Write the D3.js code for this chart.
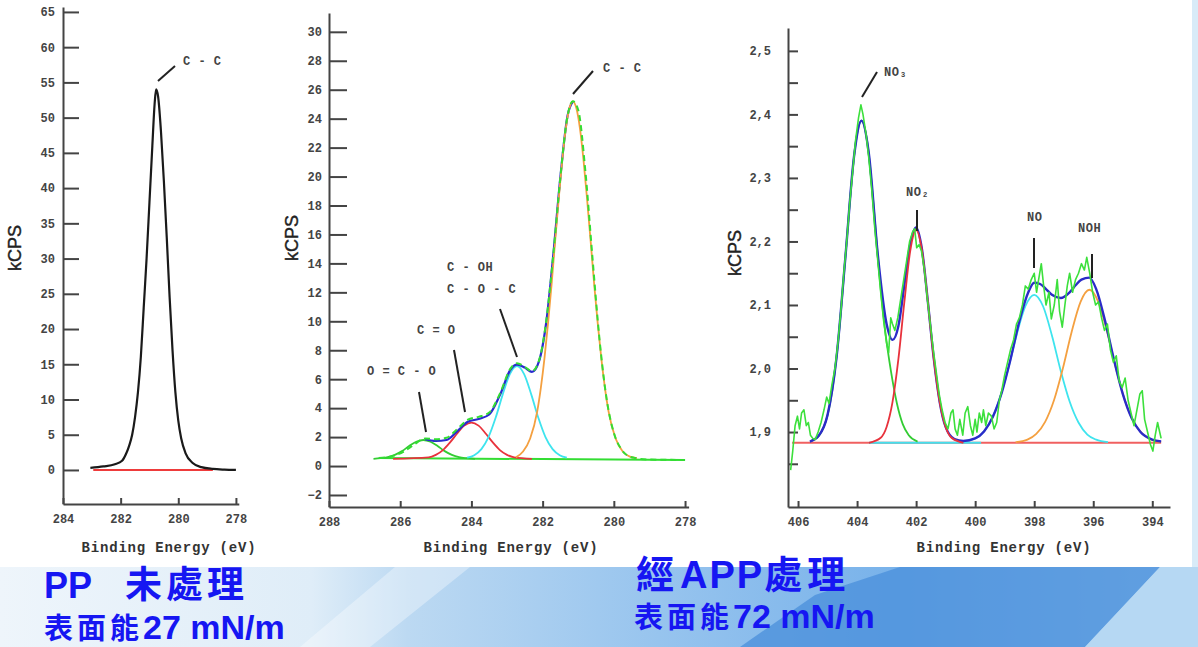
<!DOCTYPE html>
<html>
<head>
<meta charset="utf-8">
<script src="https://cdnjs.cloudflare.com/ajax/libs/d3/7.8.5/d3.min.js"></script>
<style>
    body { margin: 0; background: #fff; }
    svg { display: block; }
</style>
</head>
<body>
<div id="chart"></div>
<script>

    // ---------- data (eV, kCPS) ----------

    // PP untreated, C1s
    var ppXTicks = [284, 282, 280, 278];
    var ppYTicks = d3.range(0, 66, 5);
    var ppCurve = [[283.05, 0.3], [282.6, 0.5], [282.2, 0.8], [281.95, 1.3], [281.8, 2.4], [281.7, 3.5],
        [281.6, 5.0], [281.5, 7.5], [281.4, 11], [281.3, 16], [281.2, 23], [281.1, 30], [281.0, 38],
        [280.9, 46], [280.82, 52], [280.77, 54], [280.7, 53], [280.6, 48], [280.5, 41], [280.4, 33],
        [280.3, 24.5], [280.2, 17], [280.1, 11], [280.0, 7], [279.9, 4.5], [279.75, 2.4], [279.5, 1.0],
        [279.2, 0.4], [278.8, 0.15], [278.4, 0.05], [278.0, 0]];
    var ppBase = [[282.95, 0], [278.8, 0]];

    // APP treated, C1s
    var cXTicks = [288, 286, 284, 282, 280, 278];
    var cYTicks = d3.range(-2, 31, 2);
    var cBase = [[286.6, 0.55], [278.0, 0.42]];
    var cOCO = [[286.75, 0.5], [286.55, 0.54], [286.35, 0.61], [286.15, 0.77], [285.95, 1.03], [285.75, 1.38],
        [285.55, 1.68], [285.35, 1.8], [285.15, 1.68], [284.95, 1.38], [284.75, 1.03], [284.55, 0.77],
        [284.35, 0.61], [284.15, 0.54], [283.9, 0.5]];
    var cCdO = [[286.2, 0.5], [285.2, 0.6], [285.0, 0.77], [284.8, 1.1], [284.6, 1.63], [284.4, 2.25],
        [284.2, 2.79], [284.0, 3.0], [283.8, 2.79], [283.6, 2.25], [283.4, 1.63], [283.2, 1.1],
        [283.0, 0.77], [282.8, 0.6], [282.3, 0.5]];
    var cCOH = [[284.12, 0.58], [283.92, 0.75], [283.72, 1.17], [283.52, 2.0], [283.32, 3.33], [283.12, 4.95],
        [282.92, 6.35], [282.72, 6.9], [282.52, 6.35], [282.32, 4.95], [282.12, 3.33], [281.92, 2.0],
        [281.72, 1.17], [281.52, 0.75], [281.32, 0.58]];
    var cCC = [[282.75, 0.6], [282.55, 1.0], [282.35, 1.9], [282.15, 3.8], [282.05, 5.4], [281.95, 7.4],
        [281.85, 9.8], [281.75, 12.5], [281.65, 15.5], [281.55, 18.4], [281.45, 21.1], [281.35, 23.3],
        [281.25, 24.7], [281.15, 25.2], [281.05, 24.7], [280.95, 23.3], [280.85, 21.1], [280.75, 18.4],
        [280.65, 15.5], [280.55, 12.5], [280.45, 9.8], [280.35, 7.4], [280.25, 5.4], [280.15, 3.8],
        [279.95, 1.9], [279.75, 1.0], [279.55, 0.65], [279.35, 0.55]];
    var cFit = [[285.3, 1.85], [285.0, 1.73], [284.7, 1.8], [284.4, 2.4], [284.1, 3.06], [283.8, 3.25],
        [283.5, 3.56], [283.2, 4.9], [282.9, 6.67], [282.72, 7.0], [282.5, 6.8], [282.3, 6.5],
        [282.1, 7.25], [281.9, 9.9], [281.7, 14.6], [281.5, 20.0], [281.3, 24.2], [281.15, 25.2]];
    var cRaw = [[286.6, 0.55], [286.2, 0.7], [285.9, 1.0], [285.6, 1.5], [285.3, 1.9], [285.0, 1.85],
        [284.7, 1.95], [284.4, 2.55], [284.1, 3.2], [283.8, 3.4], [283.5, 3.7], [283.2, 5.0], [282.9, 6.75],
        [282.72, 7.1], [282.5, 6.85], [282.3, 6.55], [282.1, 7.3], [281.9, 10.0], [281.7, 14.6],
        [281.5, 20.0], [281.3, 24.2], [281.15, 25.2], [281.0, 24.6], [280.8, 20.4], [280.6, 14.4],
        [280.4, 8.7], [280.2, 4.6], [280.0, 2.3], [279.8, 1.2], [279.6, 0.7], [279.4, 0.55],
        [279.0, 0.45], [278.0, 0.42]];

    // APP treated, N1s
    var nXTicks = [406, 404, 402, 400, 398, 396, 394];
    var nYTicks = [1.85, 1.9, 1.95, 2.0, 2.05, 2.1, 2.15, 2.2, 2.25, 2.3, 2.35, 2.4, 2.45, 2.5];
    var nBase = [[406.2, 1.883], [393.7, 1.883]];
    var nBase2 = [[403.6, 1.883], [399.8, 1.883]];
    var nNO3 = [[405.55, 1.886], [405.25, 1.897], [405.05, 1.918], [404.85, 1.963], [404.65, 2.038],
        [404.45, 2.144], [404.25, 2.26], [404.05, 2.354], [403.85, 2.39], [403.65, 2.355], [403.45, 2.262],
        [403.25, 2.15], [403.05, 2.06], [402.85, 1.995], [402.65, 1.945], [402.45, 1.912], [402.25, 1.895],
        [401.95, 1.885]];
    var nNO2 = [[403.6, 1.883], [403.2, 1.891], [403.0, 1.908], [402.8, 1.947], [402.6, 2.015], [402.4, 2.104],
        [402.2, 2.185], [402.0, 2.218], [401.8, 2.185], [401.6, 2.104], [401.4, 2.015], [401.2, 1.947],
        [401.0, 1.908], [400.8, 1.891], [400.4, 1.883]];
    var nNO = [[400.5, 1.884], [400.1, 1.888], [399.8, 1.896], [399.5, 1.915], [399.2, 1.948], [398.9, 1.996],
        [398.6, 2.052], [398.3, 2.098], [398.0, 2.116], [397.7, 2.098], [397.4, 2.052], [397.1, 1.996],
        [396.8, 1.948], [396.5, 1.915], [396.2, 1.896], [395.9, 1.888], [395.5, 1.884]];
    var nNOH = [[398.63, 1.884], [398.23, 1.888], [397.93, 1.897], [397.63, 1.916], [397.33, 1.95],
        [397.03, 2.0], [396.73, 2.058], [396.43, 2.105], [396.13, 2.124], [395.83, 2.105], [395.53, 2.058],
        [395.23, 2.0], [394.93, 1.95], [394.63, 1.916], [394.33, 1.897], [394.03, 1.888], [393.7, 1.884]];
    var nFit = [[405.6, 1.885], [405.3, 1.894], [405.0, 1.927], [404.7, 2.016], [404.4, 2.173], [404.1, 2.335],
        [403.85, 2.39], [403.6, 2.338], [403.3, 2.18], [403.0, 2.07], [402.8, 2.045], [402.6, 2.067],
        [402.4, 2.131], [402.2, 2.196], [402.0, 2.222], [401.8, 2.187], [401.6, 2.104], [401.4, 2.015],
        [401.2, 1.947], [401.0, 1.908], [400.7, 1.889], [400.4, 1.886], [400.0, 1.89], [399.7, 1.901],
        [399.4, 1.924], [399.1, 1.962], [398.8, 2.015], [398.5, 2.075], [398.2, 2.12], [398.0, 2.135],
        [397.8, 2.133], [397.6, 2.125], [397.4, 2.116], [397.1, 2.111], [396.8, 2.12], [396.6, 2.131],
        [396.4, 2.14], [396.13, 2.143], [395.9, 2.125], [395.6, 2.075], [395.3, 2.014], [395.0, 1.96],
        [394.7, 1.922], [394.4, 1.9], [394.0, 1.888], [393.7, 1.885]];
    var nRaw = [[406.25, 1.84], [406.18, 1.87], [406.1, 1.91], [406.02, 1.925], [405.95, 1.905], [405.88, 1.93],
        [405.8, 1.935], [405.72, 1.91], [405.65, 1.915], [405.58, 1.895], [405.5, 1.89], [405.42, 1.888],
        [405.32, 1.9], [405.22, 1.915], [405.12, 1.935], [405.03, 1.955], [404.95, 1.945], [404.85, 1.975],
        [404.75, 2.0], [404.65, 2.04], [404.55, 2.09], [404.45, 2.15], [404.35, 2.2], [404.25, 2.26],
        [404.15, 2.31], [404.05, 2.36], [403.95, 2.395], [403.87, 2.415], [403.8, 2.4], [403.7, 2.37],
        [403.6, 2.33], [403.5, 2.28], [403.4, 2.22], [403.3, 2.17], [403.2, 2.12], [403.1, 2.075],
        [403.0, 2.04], [402.93, 2.025], [402.86, 2.08], [402.8, 2.07], [402.72, 2.06], [402.62, 2.08],
        [402.52, 2.11], [402.42, 2.14], [402.32, 2.17], [402.22, 2.2], [402.12, 2.215], [402.05, 2.22],
        [401.98, 2.19], [401.9, 2.195], [401.82, 2.185], [401.72, 2.155], [401.62, 2.11], [401.52, 2.07],
        [401.42, 2.03], [401.32, 1.995], [401.22, 1.96], [401.12, 1.935], [401.02, 1.915], [400.92, 1.905],
        [400.82, 1.93], [400.75, 1.935], [400.68, 1.905], [400.6, 1.895], [400.52, 1.92], [400.42, 1.895],
        [400.34, 1.93], [400.25, 1.94], [400.16, 1.91], [400.08, 1.895], [400.0, 1.92], [399.94, 1.9],
        [399.86, 1.93], [399.78, 1.915], [399.72, 1.935], [399.64, 1.91], [399.55, 1.93], [399.45, 1.925],
        [399.36, 1.905], [399.27, 1.915], [399.18, 1.95], [399.1, 1.965], [399.0, 1.99], [398.9, 2.01],
        [398.8, 2.03], [398.7, 2.045], [398.6, 2.07], [398.5, 2.08], [398.4, 2.1], [398.3, 2.13],
        [398.2, 2.125], [398.1, 2.14], [398.0, 2.15], [397.92, 2.12], [397.85, 2.14], [397.76, 2.165],
        [397.68, 2.13], [397.6, 2.1], [397.5, 2.12], [397.42, 2.078], [397.32, 2.1], [397.22, 2.14],
        [397.14, 2.09], [397.05, 2.065], [396.96, 2.1], [396.88, 2.13], [396.8, 2.15], [396.7, 2.12],
        [396.6, 2.14], [396.5, 2.15], [396.4, 2.165], [396.3, 2.155], [396.22, 2.175], [396.12, 2.15],
        [396.02, 2.12], [395.92, 2.1], [395.82, 2.105], [395.72, 2.08], [395.62, 2.06], [395.52, 2.07],
        [395.42, 2.03], [395.32, 2.01], [395.22, 2.02], [395.12, 1.98], [395.02, 1.97], [394.92, 1.985],
        [394.82, 1.95], [394.72, 1.93], [394.62, 1.91], [394.52, 1.935], [394.42, 1.96], [394.34, 1.965],
        [394.26, 1.92], [394.16, 1.9], [394.06, 1.88], [393.98, 1.87], [393.9, 1.895], [393.82, 1.915],
        [393.75, 1.9], [393.7, 1.89]];

    // ---------- drawing ----------
    var W = 1198, H = 647;
    var svg = d3.select("#chart").append("svg").attr("width", W).attr("height", H);

    // background of the slide
    var defs = svg.append("defs");
    var grad = defs.append("linearGradient").attr("id", "band").attr("x1", "0").attr("x2", "1").attr("y1", "0").attr("y2", "0");
    [[0, "#eef5fb"], [0.26, "#dfedf8"], [0.34, "#bcd9f2"], [0.55, "#97c4ee"], [0.75, "#78b2ea"], [1, "#a9d0f2"]]
        .forEach(function (s) { grad.append("stop").attr("offset", s[0]).attr("stop-color", s[1]); });
    svg.append("rect").attr("x", 0).attr("y", 0).attr("width", W).attr("height", H).attr("fill", "#fff");
    svg.append("rect").attr("x", 0).attr("y", 567).attr("width", W).attr("height", 80).attr("fill", "url(#band)");
    svg.append("polygon").attr("points", "300,647 395,567 470,567 370,647").attr("fill", "#fff").attr("opacity", 0.35);
    svg.append("polygon").attr("points", "740,647 815,595 900,567 1160,567 1085,647").attr("fill", "#4a8fdb").attr("opacity", 0.75);
    svg.append("polygon").attr("points", "1085,647 1160,567 1198,567 1198,647").attr("fill", "#b6d8f3");
    svg.append("rect").attr("x", 1192).attr("y", 0).attr("width", 6).attr("height", 567).attr("fill", "#d8ebf8");

    var line = function (x, y, curve) {
        return d3.line().x(function (d) { return x(d[0]); }).y(function (d) { return y(d[1]); }).curve(curve);
    };

    function drawPanel(p) {
        var g = svg.append("g");
        var x = d3.scaleLinear().domain(p.xDomain).range(p.xRange);
        var y = d3.scaleLinear().domain(p.yDomain).range(p.yRange);

        var yAxis = d3.axisLeft(y).tickValues(p.yTicks).tickSizeInner(-p.yTickLen).tickSizeOuter(0)
            .tickPadding(p.yPad).tickFormat(p.yFormat);
        var xAxis = d3.axisBottom(x).tickValues(p.xTicks).tickSizeInner(-6).tickSizeOuter(0)
            .tickPadding(10).tickFormat(d3.format("d"));

        [g.append("g").attr("transform", "translate(" + p.xRange[0] + ",0)").call(yAxis),
         g.append("g").attr("transform", "translate(0," + p.yRange[0] + ")").call(xAxis)]
            .forEach(function (a) {
                a.attr("font-family", "'Liberation Mono', monospace").attr("font-size", 12).attr("font-weight", "bold");
                a.select(".domain").attr("stroke", "#444").attr("stroke-width", 2);
                a.selectAll(".tick line").attr("stroke", "#444").attr("stroke-width", 2);
                a.selectAll(".tick text").attr("fill", "#444");
            });

        p.series.forEach(function (s) {
            g.append("path").datum(s.data)
                .attr("d", line(x, y, s.curve || d3.curveMonotoneX))
                .attr("fill", "none")
                .attr("stroke", s.color)
                .attr("stroke-width", s.width || 2)
                .attr("stroke-dasharray", s.dash || null)
                .attr("stroke-linejoin", "round");
        });

        // labels on the peaks
        p.notes.forEach(function (n) {
            g.append("line").attr("x1", n.l[0]).attr("y1", n.l[1]).attr("x2", n.l[2]).attr("y2", n.l[3])
                .attr("stroke", "#222").attr("stroke-width", 2);
            n.t.forEach(function (t) {
                g.append("text").attr("x", t[0]).attr("y", t[1]).text(t[2])
                    .attr("font-family", "'Liberation Mono', monospace").attr("font-weight", "bold")
                    .attr("font-size", 12).attr("letter-spacing", 0.5).attr("fill", "#444");
            });
        });

        g.append("text").attr("x", p.titleX).attr("y", 552).attr("text-anchor", "middle")
            .attr("font-family", "'Liberation Mono', monospace").attr("font-weight", "bold")
            .attr("font-size", 14).attr("letter-spacing", 0.8).attr("fill", "#333")
            .text("Binding Energy (eV)");
        g.append("text").attr("transform", "translate(" + p.kX + "," + p.kY + ") rotate(-90)")
            .attr("text-anchor", "middle").attr("font-family", "'Liberation Sans', sans-serif")
            .attr("font-size", 18).attr("fill", "#222").attr("stroke", "#222").attr("stroke-width", 0.4)
            .text("kCPS");
    }

    drawPanel({
        xDomain: [284, 277.9], xRange: [63, 238.8], xTicks: ppXTicks,
        yDomain: [-4.83, 65.7], yRange: [504, 7], yTicks: ppYTicks, yTickLen: 16, yPad: 8,
        yFormat: d3.format("d"),
        series: [
            { data: ppBase, color: "#ee3b3b", width: 2 },
            { data: ppCurve, color: "#1a1a1a", width: 2.2 }
        ],
        notes: [{ l: [158, 81, 175, 66], t: [[183, 65, "C - C"]] }],
        titleX: 169, kX: 21, kY: 248
    });

    drawPanel({
        xDomain: [288, 277.9], xRange: [329, 688.6], xTicks: cXTicks,
        yDomain: [-2.83, 31.3], yRange: [507, 13], yTicks: cYTicks, yTickLen: 18, yPad: 7,
        yFormat: d3.format("d"),
        series: [
            { data: cBase, color: "#33dd33", width: 2 },
            { data: cOCO, color: "#33cc33", width: 1.8 },
            { data: cCdO, color: "#e8323c", width: 1.8 },
            { data: cCOH, color: "#3ee4ee", width: 1.8 },
            { data: cFit, color: "#2a2ad0", width: 2.2 },
            { data: cCC, color: "#f4a040", width: 1.8 },
            { data: cRaw, color: "#33dd33", width: 2, dash: "6,4" }
        ],
        notes: [
            { l: [573, 94, 593, 71], t: [[603, 72, "C - C"]] },
            { l: [500, 309, 517, 357], t: [[447, 271, "C - OH"], [447, 293, "C - O - C"]] },
            { l: [454, 350, 465, 412], t: [[417, 334, "C = O"]] },
            { l: [419, 392, 426, 432], t: [[367, 375, "O = C - O"]] }
        ],
        titleX: 511, kX: 298, kY: 238
    });

    drawPanel({
        xDomain: [406.34, 393.4], xRange: [788, 1170], xTicks: nXTicks,
        yDomain: [1.782, 2.536], yRange: [507, 28], yTicks: nYTicks, yTickLen: 10, yPad: 17,
        yFormat: function (d) {
            return Math.round(d * 20) % 2 === 0 ? d3.format(".1f")(d).replace(".", ",") : "";
        },
        series: [
            { data: nBase, color: "#f06060", width: 2 },
            { data: nBase2, color: "#44e0ee", width: 2 },
            { data: nNO3, color: "#33cc33", width: 1.8 },
            { data: nNO, color: "#3ee4ee", width: 1.8 },
            { data: nNOH, color: "#f4a040", width: 1.8 },
            { data: nFit, color: "#2b2bc8", width: 2.4 },
            { data: nNO2, color: "#e8323c", width: 1.8 },
            { data: nRaw, color: "#3ce03c", width: 1.6, curve: d3.curveLinear }
        ],
        notes: [
            { l: [862, 97, 877, 72], t: [[884, 76, "NO₃"]] },
            { l: [917, 210, 917, 231], t: [[906, 196, "NO₂"]] },
            { l: [1034, 238, 1034, 268], t: [[1027, 221, "NO"]] },
            { l: [1092, 254, 1092, 278], t: [[1078, 232, "NOH"]] }
        ],
        titleX: 1004, kX: 741, kY: 253
    });

    // slide captions: CJK part and latin part in their own fonts
    var cjk = "'Noto Sans CJK TC', sans-serif", lat = "'Liberation Sans', Arial, sans-serif";
    var captions = [
        { x: 44, y: 598, parts: [["PP", lat, 36, 0, 0], ["未處理", cjk, 37, 4, 33]] },
        { x: 44, y: 639, parts: [["表面能", cjk, 29, 4, 0], ["27 mN/m", lat, 34, 0, 0]] },
        { x: 636, y: 588, parts: [["經", cjk, 38, 6, 0], ["APP", lat, 38, 2, 0], ["處理", cjk, 38, 5, 0]] },
        { x: 634, y: 628, parts: [["表面能", cjk, 29, 4, 0], ["72 mN/m", lat, 34, 0, 0]] }
    ];
    var cap = svg.append("g").attr("fill", "#1616f2").attr("font-weight", "bold");
    captions.forEach(function (c) {
        var t = cap.append("text").attr("x", c.x).attr("y", c.y);
        c.parts.forEach(function (p) {
            t.append("tspan").attr("font-family", p[1]).attr("font-size", p[2])
                .attr("letter-spacing", p[3]).attr("dx", p[4]).text(p[0]);
        });
    });

</script>
</body>
</html>
